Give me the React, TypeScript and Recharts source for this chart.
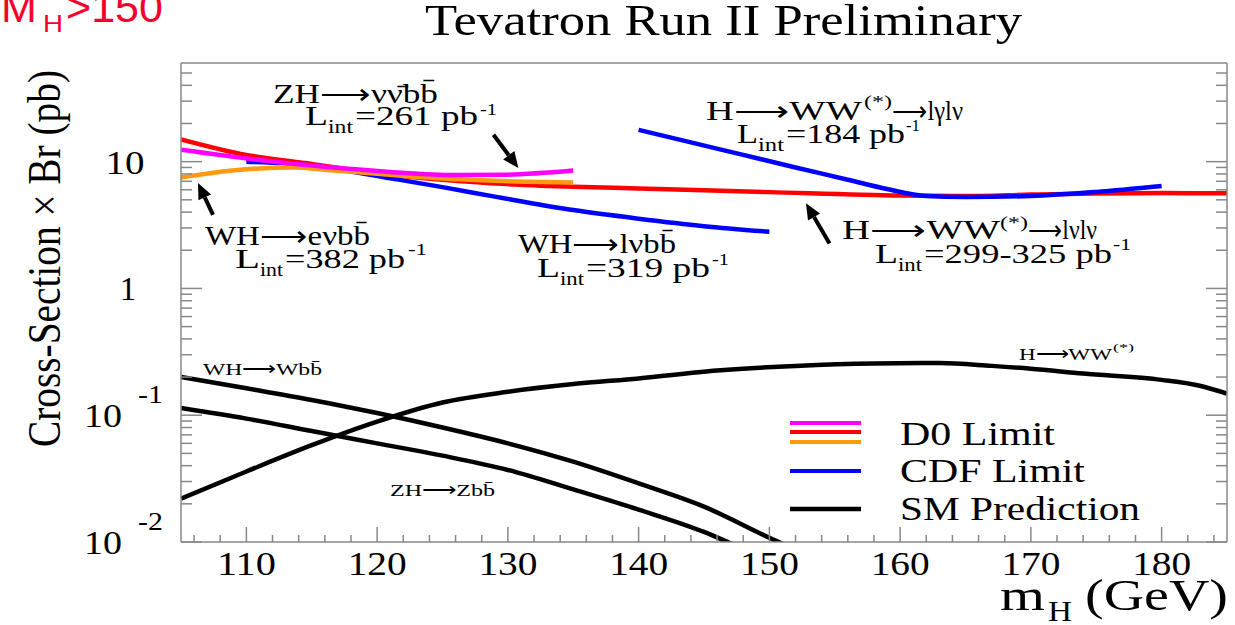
import { LineChart, Line, XAxis, YAxis, Legend, ReferenceLine } from 'recharts'

// Higgs mass grid (GeV) and limits / cross-sections (pb) for each curve
const massD0Zh = [105, 111, 116, 121, 126, 130, 135]
const limitD0Zh = [12.4, 10.3, 9.1, 8.3, 7.85, 7.9, 8.5]

const massD0Wh = [105, 107.2, 111, 113.6, 116.2, 121.2, 126.3, 131.5, 135]
const limitD0Wh = [7.5, 8.1, 8.85, 9.0, 8.6, 7.85, 7.25, 6.95, 6.85]

const massD0Hww = [105, 110, 115, 120, 125, 130, 135, 140, 150, 160, 165, 170, 175, 180, 185]
const limitD0Hww = [15.0, 11.3, 9.6, 8.1, 7.2, 6.65, 6.35, 6.15, 5.75, 5.4, 5.35, 5.5, 5.62, 5.65, 5.63]

const massCdfWh = [110, 113, 116, 121, 125, 129, 135, 140, 145, 150]
const limitCdfWh = [10.0, 9.7, 9.0, 7.4, 6.3, 5.3, 4.15, 3.55, 3.1, 2.8]

const massCdfHww = [140, 144, 148, 152, 156, 159, 162, 165, 170, 175, 180]
const limitCdfHww = [17.8, 14.2, 11.3, 9.0, 7.2, 6.08, 5.36, 5.26, 5.36, 5.77, 6.43]

const massSmHww = [105, 110, 115, 120, 125, 130, 135, 140, 146, 152, 158, 163, 167, 170, 174, 180, 183, 185]
const xsecSmHww = [0.022, 0.036, 0.058, 0.089, 0.126, 0.153, 0.176, 0.195, 0.225, 0.245, 0.256, 0.258, 0.245, 0.233, 0.213, 0.19, 0.17, 0.148]

const massSmWh = [105, 110, 115, 120, 125, 130, 135, 140, 145, 150, 153]
const xsecSmWh = [0.2, 0.163, 0.132, 0.104, 0.08, 0.06, 0.043, 0.029, 0.019, 0.0108, 0.0078]

const massSmZh = [105, 110, 115, 120, 125, 130, 135, 140, 145, 148]
const xsecSmZh = [0.114, 0.094, 0.075, 0.06, 0.048, 0.037, 0.026, 0.018, 0.012, 0.0088]

const xTicks = [
  106, 108, 110, 112, 114, 116, 118, 120, 122, 124, 126, 128, 130, 132, 134, 136, 138, 140, 142, 144,
  146, 148, 150, 152, 154, 156, 158, 160, 162, 164, 166, 168, 170, 172, 174, 176, 178, 180, 182, 184,
]
const yTicks = [
  0.01, 0.02, 0.03, 0.04, 0.05, 0.06, 0.07, 0.08, 0.09,
  0.1, 0.2, 0.3, 0.4, 0.5, 0.6, 0.7, 0.8, 0.9,
  1, 2, 3, 4, 5, 6, 7, 8, 9,
  10, 20, 30, 40, 50,
]

// annotation arrows: tail -> head, in (GeV, pb)
const arrowZh = [{ x: 128.9, y: 16.3 }, { x: 130.8, y: 8.9 }]
const arrowWh = [{ x: 107.45, y: 3.8 }, { x: 106.3, y: 6.8 }]
const arrowHww = [{ x: 154.6, y: 2.26 }, { x: 152.8, y: 4.7 }]

const pts = (m: number[], v: number[]) => m.map((x, i) => ({ m: x, v: v[i] }))

const SERIF = '"Liberation Serif", "Times New Roman", serif'
const FRAME = '#888'
const MAGENTA = '#ff00ff'
const RED = '#ff0000'
const ORANGE = '#ff9a10'
const BLUE = '#0000ff'

const isDecade = (v: number) => Math.abs(Math.log10(v) - Math.round(Math.log10(v))) < 1e-6

function T({ x, y, size, len, children, fill = '#000', family = SERIF, anchor }: any) {
  return (
    <text
      x={x}
      y={y}
      fontSize={size}
      textLength={len}
      lengthAdjust="spacingAndGlyphs"
      fontFamily={family}
      fill={fill}
      textAnchor={anchor}
    >
      {children}
    </text>
  )
}

function BottomTick({ x, y, payload }: any) {
  const major = payload.value % 10 === 0
  return (
    <g>
      <line x1={x} x2={x} y1={y} y2={y - (major ? 15 : 7)} stroke={FRAME} strokeWidth={1.5} />
      {major && (
        <T x={x} y={y + 33} size={33} len={59} anchor="middle">
          {payload.value}
        </T>
      )}
    </g>
  )
}

function TopTick({ x, y, payload }: any) {
  const major = payload.value % 10 === 0
  return <line x1={x} x2={x} y1={y} y2={y + (major ? 15 : 7)} stroke={FRAME} strokeWidth={1.5} />
}

function LeftTick({ x, y, payload }: any) {
  const v = payload.value
  const major = isDecade(v)
  let label = null
  if (v === 10) {
    label = <T x={125} y={y + 12} size={33} len={39} anchor="middle">10</T>
  } else if (v === 1) {
    label = <T x={128} y={y + 12} size={33} anchor="middle">1</T>
  } else if (major) {
    const exp = Math.round(Math.log10(v))
    label = (
      <g>
        <T x={122} y={y + 12} size={33} len={38} anchor="end">10</T>
        <T x={138} y={y - 12} size={26} len={25}>{exp}</T>
      </g>
    )
  }
  return (
    <g>
      <line x1={x} x2={x + (major ? 21 : 11)} y1={y} y2={y} stroke={FRAME} strokeWidth={1.5} />
      {label}
    </g>
  )
}

function RightTick({ x, y, payload }: any) {
  const major = isDecade(payload.value)
  return <line x1={x} x2={x - (major ? 21 : 11)} y1={y} y2={y} stroke={FRAME} strokeWidth={1.5} />
}

function Arrow({ x1, y1, x2, y2 }: any) {
  const dx = x2 - x1
  const dy = y2 - y1
  const len = Math.hypot(dx, dy)
  const ux = dx / len
  const uy = dy / len
  const bx = x2 - ux * 16
  const by = y2 - uy * 16
  return (
    <g>
      <line x1={x1} y1={y1} x2={bx} y2={by} stroke="#000" strokeWidth={4} />
      <polygon points={`${x2},${y2} ${bx - uy * 7},${by + ux * 7} ${bx + uy * 7},${by - ux * 7}`} fill="#000" />
    </g>
  )
}

function LegendBox() {
  return (
    <svg width={380} height={130}>
      <line x1={10} x2={81} y1={23} y2={23} stroke={MAGENTA} strokeWidth={4} />
      <line x1={10} x2={81} y1={32} y2={32} stroke={RED} strokeWidth={4} />
      <line x1={10} x2={81} y1={42} y2={42} stroke={ORANGE} strokeWidth={4} />
      <line x1={10} x2={81} y1={71} y2={71} stroke={BLUE} strokeWidth={4} />
      <line x1={10} x2={81} y1={109} y2={109} stroke="#000" strokeWidth={4.5} />
      <T x={120} y={45} size={33} len={155}>D0 Limit</T>
      <T x={120} y={82} size={33} len={185}>CDF Limit</T>
      <T x={120} y={120} size={33} len={240}>SM Prediction</T>
    </svg>
  )
}

export default function App() {
  const lineProps = { type: 'monotone' as const, dataKey: 'v', dot: false, strokeWidth: 4.5, isAnimationActive: false }
  return (
    <div style={{ position: 'absolute', left: 0, top: 0, width: 1235, height: 625, background: '#fff' }}>
      <LineChart width={1235} height={625} margin={{ top: 53, right: 0, bottom: 43, left: 0 }}>
        <XAxis
          dataKey="m"
          type="number"
          domain={[105, 185]}
          ticks={xTicks}
          interval={0}
          allowDataOverflow
          height={40}
          tickSize={0}
          tickMargin={0}
          axisLine={{ stroke: FRAME, strokeWidth: 1.5 }}
          tickLine={false}
          tick={(p: any) => <BottomTick {...p} />}
        />
        <XAxis
          xAxisId="top"
          orientation="top"
          type="number"
          domain={[105, 185]}
          ticks={xTicks}
          interval={0}
          allowDataOverflow
          height={10}
          tickSize={0}
          tickMargin={0}
          axisLine={{ stroke: FRAME, strokeWidth: 1.5 }}
          tickLine={false}
          tick={(p: any) => <TopTick {...p} />}
        />
        <YAxis
          scale="log"
          type="number"
          domain={[0.01, 60]}
          ticks={yTicks}
          interval={0}
          allowDataOverflow
          width={181}
          tickSize={0}
          tickMargin={0}
          axisLine={{ stroke: FRAME, strokeWidth: 1.5 }}
          tickLine={false}
          tick={(p: any) => <LeftTick {...p} />}
        />
        <YAxis
          yAxisId="right"
          orientation="right"
          scale="log"
          type="number"
          domain={[0.01, 60]}
          ticks={yTicks}
          interval={0}
          allowDataOverflow
          width={8}
          tickSize={0}
          tickMargin={0}
          axisLine={{ stroke: FRAME, strokeWidth: 1.5 }}
          tickLine={false}
          tick={(p: any) => <RightTick {...p} />}
        />

        {/* SM predictions */}
        <Line {...lineProps} data={pts(massSmWh, xsecSmWh)} stroke="#000" />
        <Line {...lineProps} data={pts(massSmZh, xsecSmZh)} stroke="#000" />
        <Line {...lineProps} data={pts(massSmHww, xsecSmHww)} stroke="#000" />

        {/* experimental limits */}
        <Line {...lineProps} data={pts(massD0Hww, limitD0Hww)} stroke={RED} />
        <Line {...lineProps} data={pts(massCdfWh, limitCdfWh)} stroke={BLUE} />
        <Line {...lineProps} data={pts(massCdfHww, limitCdfHww)} stroke={BLUE} />
        <Line {...lineProps} data={pts(massD0Wh, limitD0Wh)} stroke={ORANGE} />
        <Line {...lineProps} data={pts(massD0Zh, limitD0Zh)} stroke={MAGENTA} />

        <ReferenceLine segment={arrowZh} ifOverflow="visible" shape={(p: any) => <Arrow {...p} />} />
        <ReferenceLine segment={arrowWh} ifOverflow="visible" shape={(p: any) => <Arrow {...p} />} />
        <ReferenceLine segment={arrowHww} ifOverflow="visible" shape={(p: any) => <Arrow {...p} />} />

        <Legend
          layout="horizontal"
          verticalAlign="middle"
          align="center"
          content={() => <LegendBox />}
          wrapperStyle={{ left: 780, top: 400, width: 380, height: 130 }}
        />
      </LineChart>

      <svg width={1235} height={625} style={{ position: 'absolute', left: 0, top: 0, pointerEvents: 'none' }}>
        <T x={1} y={22} size={43} family='"Liberation Sans", sans-serif' fill="#f5002d">M</T>
        <T x={43} y={32} size={24} len={20} family='"Liberation Sans", sans-serif' fill="#f5002d">H</T>
        <T x={66} y={22} size={43} len={97} family='"Liberation Sans", sans-serif' fill="#f5002d">&gt;150</T>

        <T x={425} y={35} size={44} len={597}>Tevatron Run II Preliminary</T>

        <text
          transform="translate(60,258.5) rotate(-90)"
          textAnchor="middle"
          fontFamily={SERIF}
          fontSize={46}
          textLength={377}
          lengthAdjust="spacingAndGlyphs"
        >
          Cross-Section × Br (pb)
        </text>

        <T x={1000} y={610} size={44} len={45}>m</T>
        <T x={1048} y={621} size={30} len={24}>H</T>
        <T x={1085} y={610} size={44} len={143}>(GeV)</T>

        {/* D0 ZH */}
        <T x={273} y={103} size={27} len={165}>ZH⟶νν̄bb̄</T>
        <T x={305} y={125} size={27} len={23}>L</T>
        <T x={328} y={133} size={18} len={25}>int</T>
        <T x={355} y={125} size={27} len={123}>=261 pb</T>
        <T x={480} y={115} size={17} len={17}>-1</T>

        {/* D0 WH */}
        <T x={205} y={245} size={27} len={165}>WH⟶eνbb̄</T>
        <T x={235} y={268} size={27} len={25}>L</T>
        <T x={260} y={276} size={18} len={23}>int</T>
        <T x={285} y={268} size={27} len={120}>=382 pb</T>
        <T x={408} y={255} size={17} len={19}>-1</T>

        {/* CDF WH */}
        <T x={518} y={253} size={27} len={158}>WH⟶lνbb̄</T>
        <T x={537} y={277} size={27} len={23}>L</T>
        <T x={560} y={285} size={18} len={24}>int</T>
        <T x={586} y={277} size={27} len={124}>=319 pb</T>
        <T x={712} y={265} size={17} len={17}>-1</T>

        {/* CDF H->WW */}
        <T x={706} y={120} size={27} len={156}>H⟶WW</T>
        <T x={864} y={107} size={17} len={28}>(*)</T>
        <T x={892} y={120} size={27} len={71}>⟶lγlν</T>
        <T x={737} y={143} size={27} len={21}>L</T>
        <T x={758} y={151} size={18} len={26}>int</T>
        <T x={786} y={143} size={27} len={119}>=184 pb</T>
        <T x={906} y={131} size={17} len={14}>-1</T>

        {/* D0 H->WW */}
        <T x={842} y={239} size={27} len={158}>H⟶WW</T>
        <T x={1000} y={228} size={17} len={28}>(*)</T>
        <T x={1028} y={239} size={27} len={69}>⟶lνlν</T>
        <T x={875} y={263} size={27} len={23}>L</T>
        <T x={898} y={271} size={18} len={24}>int</T>
        <T x={924} y={263} size={27} len={188}>=299-325 pb</T>
        <T x={1113} y={250} size={17} len={18}>-1</T>

        {/* SM channel labels */}
        <T x={203} y={375} size={17} len={119}>WH⟶Wbb̄</T>
        <T x={390} y={496} size={17} len={105}>ZH⟶Zbb̄</T>
        <T x={1019} y={360} size={17} len={93}>H⟶WW</T>
        <T x={1113} y={351} size={11} len={21}>(*)</T>
      </svg>
    </div>
  )
}
